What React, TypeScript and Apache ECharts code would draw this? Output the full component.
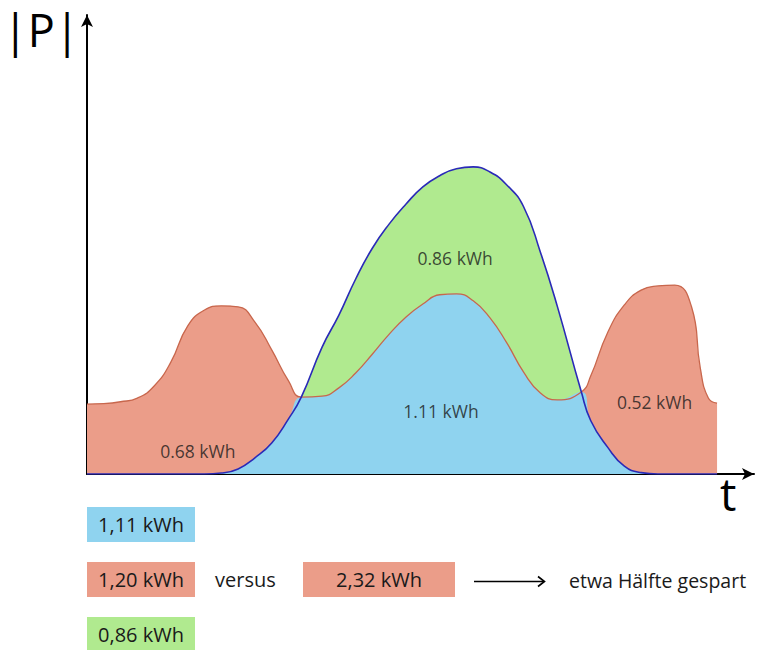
import React, { useEffect, useRef } from "react";
import * as echarts from "echarts";

// time samples (arbitrary units) shared by both curves
const tValues = [0, 2.5, 5, 7.5, 10, 12.5, 15, 17.5, 20, 22.5, 25, 27.5, 30, 31.9, 35, 37.5, 40, 42.5, 45, 47.5, 50, 52.5, 55, 57.5, 60, 62.5, 65, 67.5, 70, 73.6, 75, 77.5, 80, 82.5, 85, 87.5, 90, 91.3, 92.5, 93.8];
// power consumption |P| (red)
const consumption = [15.1, 15.2, 15.6, 16.4, 19.0, 24.2, 32.0, 35.4, 36.3, 36.1, 32.8, 26.8, 20.1, 16.6, 16.8, 18.6, 21.8, 25.9, 30.2, 33.9, 36.7, 38.7, 38.9, 37.4, 33.7, 28.3, 22.0, 17.5, 16.0, 17.7, 21.2, 30.5, 36.5, 39.7, 40.6, 40.8, 36.1, 22.9, 16.4, 15.3];
// power production |P| (blue line)
const production = [0, 0, 0, 0, 0, 0, 0, 0, 0.2, 1.1, 3.5, 6.7, 11.9, 16.6, 27.4, 34.3, 42.1, 48.8, 54.0, 58.3, 62.0, 64.4, 65.9, 66.3, 65.2, 62.4, 57.7, 47.9, 36.3, 17.7, 11.5, 5.8, 1.7, 0.3, 0, 0, 0, 0, 0, 0];

// region labels
const regionLabels = ["0.68 kWh", "0.86 kWh", "1.11 kWh", "0.52 kWh"];
const regionLabelT = [16.5, 54.8, 52.7, 84.5];
const regionLabelP = [5.0, 46.7, 13.6, 15.6];

// summary boxes
const boxLabels = ["1,11 kWh", "1,20 kWh", "0,86 kWh"];
const versusLabel = "versus";
const totalLabel = "2,32 kWh";
const conclusionLabel = "etwa Hälfte gespart";
const yAxisTitle = "|P|";
const xAxisTitle = "t";

const X_MAX = 99.3;
const Y_MAX = 99.1;

const RED_FILL = "#eb9d89";
const BLUE_FILL = "#8fd3ef";
const GREEN_FILL = "#b0ea8f";
const BLUE_LINE = "#2a2ab8";
const RED_LINE = "#c8674d";
const TEXT = "#1a1a1a";
const FONT = "'Open Sans', 'Noto Sans', sans-serif";

export default function App() {
  const ref = useRef<HTMLDivElement>(null);
  useEffect(() => {
    if (!ref.current) return;
    const chart = echarts.init(ref.current, null, { renderer: "svg" });
    const pts = (vals: number[]) => tValues.map((t, i) => [t, vals[i]]);
    const minVals = tValues.map((_, i) => Math.min(consumption[i], production[i]));
    const smooth = 0.5;
    const boxFill = [BLUE_FILL, RED_FILL, GREEN_FILL];
    const boxY = [507, 562, 617];
    const graphics: any[] = [];
    boxLabels.forEach((lab, i) => {
      graphics.push({
        type: "rect",
        shape: { x: 87, y: boxY[i], width: 108, height: i === 2 ? 34 : 35 },
        style: { fill: boxFill[i] },
      });
      graphics.push({
        type: "text",
        x: 141,
        y: boxY[i] + 17.5,
        style: { text: lab, fill: TEXT, font: `20px ${FONT}`, align: "center", verticalAlign: "middle" },
      });
    });
    graphics.push({
      type: "text",
      x: 215,
      y: 579,
      style: { text: versusLabel, fill: TEXT, font: `20px ${FONT}`, align: "left", verticalAlign: "middle" },
    });
    graphics.push({
      type: "rect",
      shape: { x: 303, y: 562, width: 152, height: 35 },
      style: { fill: RED_FILL },
    });
    graphics.push({
      type: "text",
      x: 379,
      y: 579.5,
      style: { text: totalLabel, fill: TEXT, font: `20px ${FONT}`, align: "center", verticalAlign: "middle" },
    });
    graphics.push({
      type: "line",
      shape: { x1: 474, y1: 581.5, x2: 544, y2: 581.5 },
      style: { stroke: "#000", lineWidth: 1.6 },
    });
    graphics.push({
      type: "polyline",
      shape: { points: [[538, 576.5], [544.5, 581.5], [538, 586.5]] },
      style: { stroke: "#000", lineWidth: 1.6, fill: "none" },
    });
    graphics.push({
      type: "text",
      x: 569,
      y: 580,
      style: { text: conclusionLabel, fill: TEXT, font: `19.5px ${FONT}`, align: "left", verticalAlign: "middle" },
    });
    graphics.push({
      type: "text",
      x: 3,
      y: 29,
      style: { text: yAxisTitle, fill: "#000", font: `45px ${FONT}`, align: "left", verticalAlign: "middle" },
    });
    graphics.push({
      type: "text",
      x: 720,
      y: 493,
      style: { text: xAxisTitle, fill: "#000", font: `46px ${FONT}`, align: "left", verticalAlign: "middle" },
    });

    chart.setOption({
      animation: false,
      backgroundColor: "#fff",
      grid: { left: 87, right: 10, top: 15, bottom: 176 },
      xAxis: {
        type: "value",
        min: 0,
        max: X_MAX,
        axisLine: { show: true, lineStyle: { color: "#000", width: 2 }, symbol: ["none", "arrow"], symbolSize: [9, 12] },
        axisTick: { show: false },
        axisLabel: { show: false },
        splitLine: { show: false },
      },
      yAxis: {
        type: "value",
        min: 0,
        max: Y_MAX,
        axisLine: { show: true, lineStyle: { color: "#000", width: 2 }, symbol: ["none", "arrow"], symbolSize: [9, 12] },
        axisTick: { show: false },
        axisLabel: { show: false },
        splitLine: { show: false },
      },
      series: [
        {
          type: "line",
          data: pts(consumption),
          smooth,
          symbol: "none",
          lineStyle: { width: 0 },
          areaStyle: { color: RED_FILL, opacity: 1 },
          z: 2,
        },
        {
          type: "line",
          data: pts(production),
          smooth,
          symbol: "none",
          lineStyle: { width: 0 },
          areaStyle: { color: GREEN_FILL, opacity: 1 },
          z: 3,
        },
        {
          type: "line",
          data: pts(minVals),
          smooth,
          symbol: "none",
          lineStyle: { width: 0 },
          areaStyle: { color: BLUE_FILL, opacity: 1 },
          z: 4,
        },
        {
          type: "line",
          data: pts(consumption),
          smooth,
          symbol: "none",
          lineStyle: { width: 1.3, color: RED_LINE },
          z: 5,
        },
        {
          type: "line",
          data: pts(production),
          smooth,
          symbol: "none",
          lineStyle: { width: 1.6, color: BLUE_LINE },
          z: 6,
        },
        {
          type: "scatter",
          data: regionLabels.map((lab, i) => ({ value: [regionLabelT[i], regionLabelP[i]], name: lab })),
          symbolSize: 0,
          label: {
            show: true,
            position: "inside",
            formatter: (p: any) => p.name,
            color: TEXT,
            fontSize: 17.5,
            fontFamily: FONT,
          },
          z: 7,
        },
      ],
      graphic: graphics,
    });
    return () => chart.dispose();
  }, []);
  return <div ref={ref} style={{ position: "fixed", left: 0, top: 0, width: 764, height: 650 }} />;
}
